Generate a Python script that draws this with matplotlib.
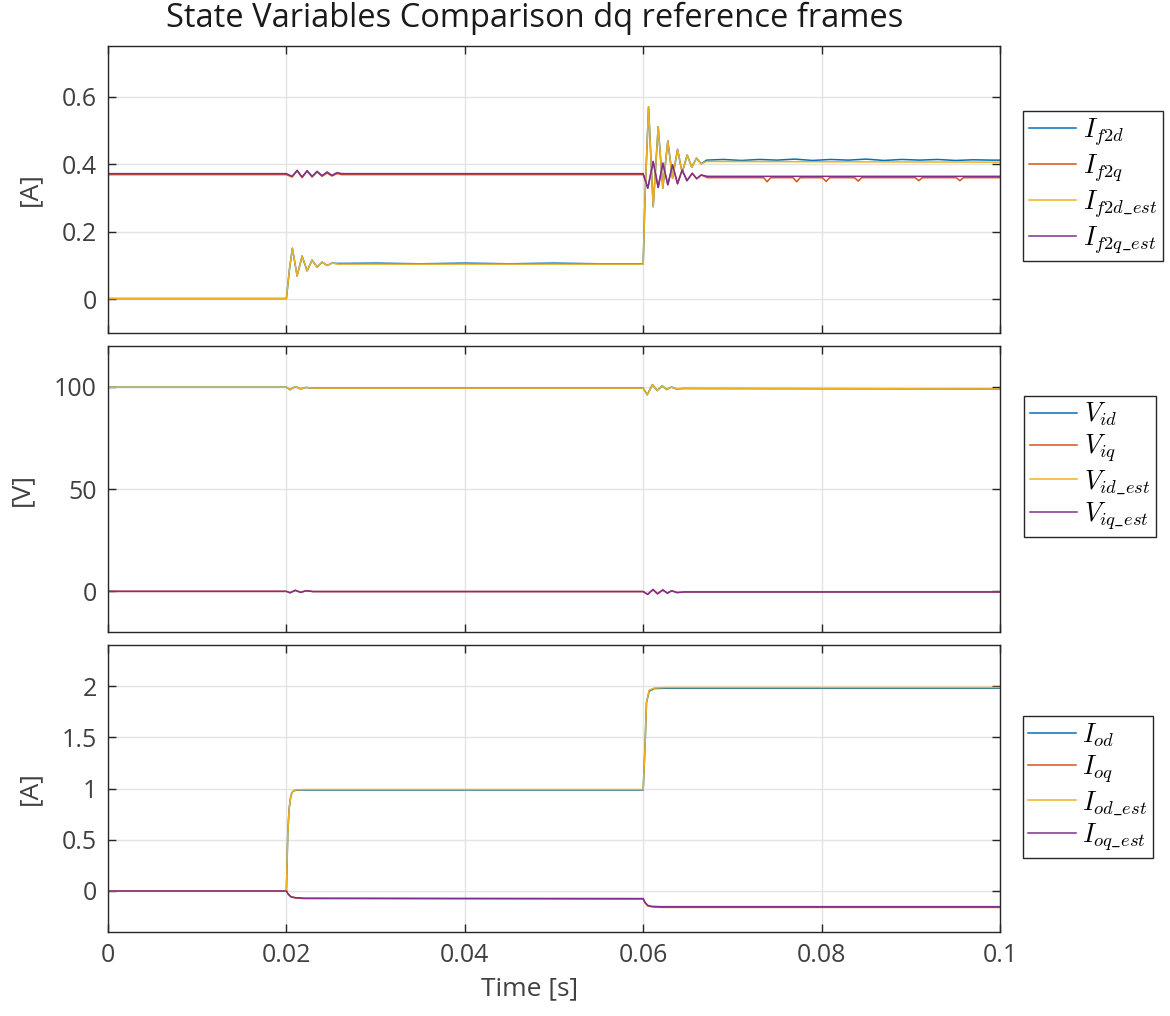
import matplotlib
matplotlib.use('Agg')
from matplotlib import pyplot as plt

plt.rcParams['font.family'] = ['Open Sans', 'DejaVu Sans']
plt.rcParams['mathtext.fontset'] = 'cm'

# MATLAB default colours
c_blue, c_red, c_yel, c_pur = '#0072BD', '#D95319', '#EDB120', '#7E2F8E'

# ---- top panel: filter currents [A] ----
t_f2d = [0, 0.02, 0.02035, 0.02067, 0.0212, 0.02176, 0.02232, 0.02288, 0.02344, 0.024,
         0.02456, 0.0251, 0.0258, 0.03, 0.035, 0.04, 0.045, 0.05, 0.055, 0.06, 0.0602,
         0.0606, 0.06112, 0.06168, 0.0622, 0.06276, 0.06329, 0.06385, 0.06437, 0.06493,
         0.06545, 0.06597, 0.0665, 0.0671, 0.069, 0.071, 0.073, 0.075, 0.077, 0.079, 0.081,
         0.083, 0.085, 0.087, 0.089, 0.091, 0.093, 0.095, 0.097, 0.099, 0.1]
if2d = [0.002, 0.002, 0.09, 0.151, 0.069, 0.128, 0.084, 0.116, 0.095, 0.110,
        0.100, 0.107, 0.106, 0.107, 0.105, 0.107, 0.105, 0.107, 0.105, 0.105, 0.30,
        0.570, 0.274, 0.511, 0.329, 0.469, 0.358, 0.444, 0.375, 0.427,
        0.391, 0.418, 0.401, 0.412, 0.414, 0.411, 0.414, 0.412, 0.415, 0.411, 0.414,
        0.412, 0.415, 0.411, 0.414, 0.412, 0.414, 0.411, 0.413, 0.412, 0.412]
t_f2d_est = [0, 0.02, 0.02035, 0.02067, 0.0212, 0.02176, 0.02232, 0.02288, 0.02344, 0.024,
             0.02456, 0.0251, 0.0258, 0.06, 0.0602, 0.0606, 0.06112, 0.06168, 0.0622,
             0.06276, 0.06329, 0.06385, 0.06437, 0.06493, 0.06545, 0.06597, 0.0665, 0.0671, 0.1]
if2d_est = [0.002, 0.002, 0.09, 0.151, 0.069, 0.128, 0.084, 0.116, 0.095, 0.110,
            0.100, 0.107, 0.104, 0.104, 0.30, 0.570, 0.274, 0.511, 0.329,
            0.469, 0.358, 0.444, 0.375, 0.427, 0.391, 0.418, 0.401, 0.408, 0.406]

t_f2q = [0, 0.02, 0.02064, 0.0212, 0.02176, 0.02232, 0.02288, 0.02344, 0.024, 0.02456,
         0.0251, 0.02568, 0.0262, 0.06, 0.06052, 0.06112, 0.06168, 0.0622, 0.06276,
         0.06329, 0.06385, 0.06437, 0.0649, 0.0655, 0.066, 0.0665, 0.0672,
         0.0735, 0.0739, 0.0743, 0.0768, 0.0772, 0.0776, 0.0801, 0.0805, 0.0809,
         0.0837, 0.0841, 0.0845, 0.0905, 0.0909, 0.0913, 0.0951, 0.0955, 0.0959, 0.1]
if2q = [0.369, 0.369, 0.362, 0.380, 0.360, 0.379, 0.362, 0.377, 0.364, 0.374,
        0.365, 0.372, 0.369, 0.369, 0.329, 0.408, 0.331, 0.403, 0.339,
        0.398, 0.342, 0.383, 0.351, 0.373, 0.357, 0.368, 0.360,
        0.360, 0.348, 0.360, 0.360, 0.348, 0.360, 0.360, 0.349, 0.360,
        0.360, 0.350, 0.360, 0.360, 0.351, 0.360, 0.360, 0.351, 0.360, 0.360]
t_f2q_est = [0, 0.02, 0.02064, 0.0212, 0.02176, 0.02232, 0.02288, 0.02344, 0.024, 0.02456,
             0.0251, 0.02568, 0.0262, 0.06, 0.06052, 0.06112, 0.06168, 0.0622, 0.06276,
             0.06329, 0.06385, 0.06437, 0.0649, 0.0655, 0.066, 0.0665, 0.0672, 0.1]
if2q_est = [0.372, 0.372, 0.364, 0.382, 0.362, 0.381, 0.364, 0.379, 0.366, 0.377,
            0.367, 0.375, 0.372, 0.372, 0.329, 0.408, 0.331, 0.403, 0.339,
            0.398, 0.342, 0.383, 0.351, 0.373, 0.357, 0.368, 0.364, 0.364]

# ---- middle panel: inverter voltages [V] ----
t_vd = [0, 0.02, 0.0204, 0.021, 0.0216, 0.0222, 0.023, 0.06, 0.06045, 0.06104,
        0.06157, 0.06213, 0.06261, 0.06317, 0.06373, 0.0645, 0.1]
vid = [99.8, 99.8, 98.6, 100.1, 99.0, 99.7, 99.4, 99.4, 96.1, 101.1,
       98.2, 100.5, 98.7, 99.9, 99.0, 99.2, 99.0]
vid_est = [99.8, 99.8, 98.6, 100.1, 99.0, 99.7, 99.4, 99.4, 96.1, 101.1,
           98.2, 100.5, 98.7, 99.9, 99.0, 99.2, 99.0]
t_vq = [0, 0.02, 0.0204, 0.021, 0.0216, 0.0222, 0.023, 0.06, 0.0605, 0.0611,
        0.0616, 0.0622, 0.0627, 0.0632, 0.0638, 0.0646, 0.1]
viq = [-0.1, -0.1, -0.8, 0.4, -0.6, 0.2, -0.2, -0.2, -1.6, 0.8,
       -1.3, 0.6, -1.0, 0.2, -0.7, -0.4, -0.4]
viq_est = [-0.1, -0.1, -0.8, 0.4, -0.6, 0.2, -0.2, -0.2, -1.6, 0.8,
           -1.3, 0.6, -1.0, 0.2, -0.7, -0.4, -0.4]

# ---- bottom panel: output currents [A] ----
t_od = [0, 0.02, 0.02015, 0.0203, 0.0205, 0.0207, 0.021, 0.022, 0.06, 0.06022,
        0.06037, 0.06067, 0.06123, 0.0625, 0.1]
iod = [0, 0, 0.55, 0.80, 0.93, 0.97, 0.982, 0.985, 0.985, 1.45,
       1.84, 1.95, 1.975, 1.978, 1.978]
iod_est = [0, 0, 0.55, 0.80, 0.93, 0.97, 0.985, 0.99, 0.99, 1.45,
           1.84, 1.96, 1.98, 1.985, 1.985]
t_oq = [0, 0.02, 0.0202, 0.0205, 0.021, 0.022, 0.06, 0.0602, 0.0605, 0.061, 0.062, 0.1]
ioq = [0, 0, -0.03, -0.058, -0.068, -0.074, -0.078, -0.115, -0.145, -0.155, -0.16, -0.16]
ioq_est = [0, 0, -0.03, -0.055, -0.065, -0.07, -0.074, -0.11, -0.14, -0.15, -0.153, -0.153]

x_ticks = [0, 0.02, 0.04, 0.06, 0.08, 0.1]
x_labels = ['0', '0.02', '0.04', '0.06', '0.08', '0.1']

W, H = 1170, 1016
fig = plt.figure(figsize=(W / 100, H / 100), dpi=100)

left, right = 108 / W, 1000 / W
boxes = [(46, 333), (346, 632), (645, 932)]  # pixel top/bottom of each axes
axes = []
for top, bot in boxes:
    ax = fig.add_axes([left, 1 - bot / H, right - left, (bot - top) / H])
    axes.append(ax)

panels = [
    ([(t_f2d, if2d), (t_f2q, if2q), (t_f2d_est, if2d_est), (t_f2q_est, if2q_est)],
     [r'$I_{f2d}$', r'$I_{f2q}$', r'$I_{f2d\_est}$', r'$I_{f2q\_est}$'],
     '[A]', (-0.1, 0.75), [0, 0.2, 0.4, 0.6], ['0', '0.2', '0.4', '0.6'], (1018, 110, 1168, 262)),
    ([(t_vd, vid), (t_vq, viq), (t_vd, vid_est), (t_vq, viq_est)],
     [r'$V_{id}$', r'$V_{iq}$', r'$V_{id\_est}$', r'$V_{iq\_est}$'],
     '[V]', (-20, 120), [0, 50, 100], ['0', '50', '100'], (1018, 384, 1162, 549)),
    ([(t_od, iod), (t_oq, ioq), (t_od, iod_est), (t_oq, ioq_est)],
     [r'$I_{od}$', r'$I_{oq}$', r'$I_{od\_est}$', r'$I_{oq\_est}$'],
     '[A]', (-0.4, 2.4), [0, 0.5, 1, 1.5, 2], ['0', '0.5', '1', '1.5', '2'], (1018, 712, 1158, 862)),
]

colors = [c_blue, c_red, c_yel, c_pur]
for i, (ax, (series, labels, ylab, ylim, yt, ytl, lbox)) in enumerate(zip(axes, panels)):
    for (t, v), col, lab in zip(series, colors, labels):
        ax.plot(t, v, color=col, lw=1.1, label=lab)
    ax.set_xlim(0, 0.1)
    ax.set_ylim(*ylim)
    ax.set_yticks(yt)
    ax.set_yticklabels(ytl)
    ax.set_xticks(x_ticks)
    if i == 2:
        ax.set_xticklabels(x_labels)
        ax.set_xlabel('Time [s]', fontsize=19, color='#404040')
        ax.xaxis.set_label_coords((530 - 108) / 892, -0.155)
    else:
        ax.set_xticklabels([])
    ax.set_ylabel(ylab, fontsize=19, color='#404040', labelpad=14)
    ax.grid(True, color='#e3e3e3', lw=1.0)
    ax.set_axisbelow(True)
    ax.tick_params(direction='in', length=6, width=1, top=True, right=True,
                   labelsize=18, labelcolor='#404040', color='#262626', pad=8)
    for s in ax.spines.values():
        s.set_color('#262626')
        s.set_linewidth(1.0)
    x0, y0, x1, y1 = lbox
    leg = ax.legend(loc='center', bbox_to_anchor=(x0 / W, 1 - y1 / H, (x1 - x0) / W, (y1 - y0) / H),
                    bbox_transform=fig.transFigure, fontsize=19, frameon=True, fancybox=False,
                    framealpha=1, edgecolor='#262626', handlelength=1.8, handletextpad=0.25,
                    borderpad=0.2, labelspacing=0.15, borderaxespad=0)
    leg.get_frame().set_linewidth(1.0)

fig.text(535 / W, 1 - 18 / H, 'State Variables Comparison dq reference frames',
         ha='center', va='center', fontsize=23.5, color='#1a1a1a')

fig.savefig('out.png', dpi=100)
